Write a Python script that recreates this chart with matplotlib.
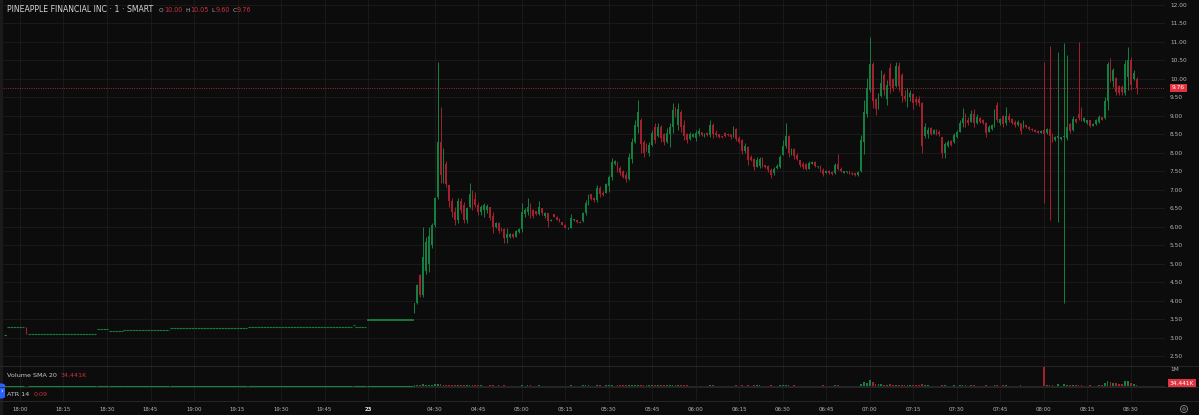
import matplotlib.pyplot as plt
from matplotlib.lines import Line2D
from matplotlib.patches import FancyBboxPatch, Ellipse, Rectangle
import numpy as np

title = 'PINEAPPLE FINANCIAL INC · 1 · SMART'
legend_keys = ['O', 'H', 'L', 'C']
legend_values = ['10.00', '10.05', '9.60', '9.76']
last_price = 9.76
volume_sma = '34.441K'
atr_value = '0.09'

# quiet evening session: runs of one-minute bars that did not move (first bar, last bar, low, high)
flat_first = [-5, -4, 3, 27, 31, 36, 52, 79, 115, 116, 120]
flat_last = [-5, 1, 26, 30, 35, 51, 78, 114, 115, 119, 135]
flat_low = [3.07, 3.29, 3.10, 3.23, 3.18, 3.21, 3.26, 3.29, 3.34, 3.29, 3.49]
flat_high = [3.07, 3.29, 3.10, 3.23, 3.18, 3.21, 3.26, 3.29, 3.34, 3.29, 3.51]

# the one evening bar that dropped
step_bar = [2]
step_open = [3.29]
step_close = [3.12]

# pre-market one-minute bars, bar 136 onwards
first_bar = 136
opens = [
    3.70, 3.95, 4.70, 4.15, 4.80, 5.00, 5.50, 6.05, 6.80, 8.30,
    7.40, 7.70, 7.14, 6.70, 6.40, 6.20, 6.70, 6.60, 6.20, 6.55,
    6.95, 6.75, 6.60, 6.40, 6.45, 6.45, 6.54, 6.30, 6.00, 6.12,
    5.97, 5.95, 5.70, 5.72, 5.80, 5.74, 5.86, 5.95, 6.35, 6.40,
    6.55, 6.45, 6.42, 6.35, 6.50, 6.30, 6.38, 6.17, 6.35, 6.28,
    6.22, 6.14, 6.06, 5.96, 5.98, 6.18, 6.19, 6.14, 6.15, 6.38,
    6.62, 6.88, 6.78, 6.72, 7.05, 6.92, 6.93, 7.10, 7.35, 7.70,
    7.76, 7.60, 7.50, 7.40, 7.30, 7.85, 8.30, 8.70, 8.90, 8.30,
    8.25, 8.00, 8.22, 8.70, 8.45, 8.70, 8.50, 8.30, 8.50, 8.70,
    9.20, 8.75, 9.10, 8.75, 8.50, 8.38, 8.44, 8.40, 8.50, 8.57,
    8.45, 8.55, 8.48, 8.75, 8.55, 8.50, 8.46, 8.55, 8.52, 8.50,
    8.45, 8.65, 8.40, 8.35, 8.05, 8.15, 7.90, 7.85, 7.62, 7.65,
    7.85, 7.68, 7.66, 7.55, 7.45, 7.60, 7.62, 7.95, 8.20, 8.45,
    7.98, 8.10, 7.95, 7.80, 7.70, 7.70, 7.58, 7.70, 7.76, 7.62,
    7.66, 7.55, 7.46, 7.52, 7.48, 7.45, 7.70, 7.58, 7.47, 7.48,
    7.50, 7.46, 7.45, 7.40, 7.50, 8.30, 9.05, 9.70, 10.40, 9.45,
    9.22, 9.55, 10.10, 9.45, 10.30, 10.00, 9.80, 10.35, 10.10, 9.55,
    9.30, 9.50, 9.60, 9.45, 9.45, 9.35, 8.45, 8.50, 8.68, 8.52,
    8.62, 8.58, 8.42, 8.00, 8.20, 8.32, 8.30, 8.42, 8.58, 8.80,
    8.95, 8.90, 8.85, 9.05, 8.82, 8.95, 8.88, 8.80, 8.58, 8.65,
    8.75, 9.30, 8.80, 9.00, 8.80, 9.00, 8.92, 8.85, 8.75, 8.80,
    8.70, 8.76, 8.70, 8.66, 8.62, 8.59, 8.55, 8.62, 8.55, 8.64,
    8.45, 8.35, 8.40, 8.38, 8.42, 8.40, 8.78, 8.62, 8.92, 9.05,
    9.20, 8.86, 8.80, 8.88, 8.74, 8.78, 8.85, 8.97, 8.95, 9.40,
    10.45, 9.95, 10.02, 9.80, 9.78, 9.62, 10.05, 10.50, 10.00, 10.00,
]
highs = [
    3.95, 4.45, 4.73, 6.00, 5.73, 6.00, 6.11, 6.81, 10.47, 9.24,
    8.14, 7.78, 7.14, 6.78, 6.54, 6.78, 6.78, 6.68, 6.54, 7.19,
    7.00, 6.95, 6.68, 6.59, 6.65, 6.62, 6.54, 6.41, 6.14, 6.14,
    5.97, 5.97, 5.97, 5.84, 5.84, 5.92, 5.97, 6.65, 6.51, 6.78,
    6.65, 6.49, 6.43, 6.70, 6.51, 6.41, 6.38, 6.21, 6.36, 6.29,
    6.24, 6.14, 6.08, 5.99, 6.35, 6.21, 6.20, 6.15, 6.41, 6.73,
    6.89, 6.89, 6.81, 7.14, 7.11, 6.97, 7.19, 7.41, 7.86, 7.81,
    7.76, 7.65, 7.54, 7.49, 8.00, 8.41, 8.89, 9.43, 8.95, 8.35,
    8.27, 8.30, 8.62, 8.81, 8.81, 8.76, 8.54, 8.68, 8.81, 9.35,
    9.24, 9.35, 9.16, 8.89, 8.54, 8.57, 8.54, 8.62, 8.68, 8.57,
    8.54, 8.57, 8.89, 8.81, 8.62, 8.51, 8.46, 8.57, 8.54, 8.51,
    8.73, 8.68, 8.46, 8.38, 8.27, 8.19, 7.95, 7.86, 7.89, 7.89,
    7.89, 7.68, 7.68, 7.59, 7.62, 7.70, 7.95, 8.35, 8.81, 8.49,
    8.14, 8.14, 8.00, 7.81, 7.75, 7.73, 7.78, 7.78, 7.78, 7.65,
    7.68, 7.59, 7.54, 7.54, 7.51, 7.73, 7.97, 7.62, 7.52, 7.52,
    7.51, 7.48, 7.46, 7.51, 8.49, 9.43, 10.03, 11.14, 10.46, 9.49,
    9.62, 10.24, 10.16, 9.97, 10.43, 10.03, 10.46, 10.46, 10.16, 9.70,
    9.76, 9.70, 9.62, 9.55, 9.55, 9.38, 8.81, 8.70, 8.70, 8.66,
    8.65, 8.62, 8.43, 8.30, 8.35, 8.35, 8.54, 8.62, 8.89, 9.22,
    9.08, 8.97, 9.16, 9.19, 9.05, 8.97, 8.92, 8.84, 8.76, 8.78,
    9.19, 9.38, 8.95, 9.03, 9.24, 9.08, 8.95, 8.88, 8.88, 8.81,
    8.90, 8.77, 8.72, 8.68, 8.64, 8.61, 8.62, 10.46, 8.68, 10.89,
    8.54, 8.46, 10.73, 8.43, 10.97, 10.65, 8.81, 9.00, 8.95, 11.00,
    9.24, 8.97, 8.90, 8.89, 8.81, 8.92, 9.03, 8.98, 9.51, 10.46,
    10.57, 10.30, 10.05, 9.84, 9.84, 10.51, 10.86, 10.59, 10.24, 10.05,
]
lows = [
    3.68, 3.93, 4.10, 4.12, 4.73, 4.78, 5.43, 6.00, 6.75, 7.19,
    7.19, 7.08, 6.54, 6.27, 6.05, 6.11, 6.38, 6.11, 6.11, 6.51,
    6.46, 6.55, 6.32, 6.32, 6.27, 6.38, 6.19, 5.84, 5.97, 5.84,
    5.89, 5.57, 5.57, 5.70, 5.70, 5.73, 5.84, 5.86, 6.27, 6.32,
    6.24, 6.24, 6.32, 6.32, 6.32, 6.24, 6.00, 6.15, 6.27, 6.19,
    6.14, 6.05, 5.97, 5.95, 5.97, 6.17, 6.11, 6.11, 6.14, 6.32,
    6.59, 6.73, 6.68, 6.68, 6.81, 6.84, 6.92, 6.95, 7.27, 7.68,
    7.49, 7.41, 7.32, 7.22, 7.28, 7.73, 8.27, 8.54, 8.00, 7.89,
    8.05, 7.92, 8.20, 8.27, 8.43, 8.30, 8.22, 8.27, 8.16, 8.54,
    8.97, 8.62, 8.57, 8.35, 8.27, 8.35, 8.43, 8.32, 8.46, 8.46,
    8.43, 8.46, 8.43, 8.41, 8.43, 8.41, 8.41, 8.43, 8.46, 8.38,
    8.44, 8.32, 8.27, 7.97, 8.00, 7.68, 7.78, 7.54, 7.62, 7.59,
    7.62, 7.60, 7.49, 7.32, 7.40, 7.57, 7.59, 7.95, 8.14, 7.89,
    7.95, 7.84, 7.80, 7.62, 7.58, 7.54, 7.57, 7.69, 7.62, 7.59,
    7.49, 7.38, 7.45, 7.44, 7.40, 7.44, 7.54, 7.48, 7.46, 7.45,
    7.42, 7.41, 7.38, 7.39, 7.49, 7.97, 8.97, 9.65, 9.22, 9.03,
    9.20, 9.51, 9.57, 9.30, 9.62, 9.68, 9.78, 9.68, 9.38, 9.40,
    9.24, 9.40, 9.19, 9.30, 9.28, 8.00, 8.41, 8.40, 8.49, 8.50,
    8.48, 8.45, 7.86, 7.86, 8.16, 8.19, 8.28, 8.41, 8.57, 8.70,
    8.70, 8.76, 8.84, 8.70, 8.78, 8.80, 8.78, 8.43, 8.57, 8.62,
    8.70, 8.84, 8.76, 8.70, 8.76, 8.85, 8.78, 8.70, 8.74, 8.51,
    8.68, 8.67, 8.63, 8.60, 8.56, 8.53, 8.54, 6.65, 8.52, 6.19,
    8.30, 8.33, 6.14, 8.36, 3.95, 8.35, 8.54, 8.60, 8.80, 8.89,
    8.86, 8.84, 8.78, 8.70, 8.72, 8.76, 8.81, 8.89, 8.93, 9.16,
    9.92, 9.78, 9.57, 9.57, 9.57, 9.57, 9.70, 9.70, 9.97, 9.60,
]
closes = [
    3.94, 4.42, 4.15, 5.20, 5.60, 5.75, 6.05, 6.78, 8.30, 7.40,
    7.70, 7.15, 6.70, 6.40, 6.20, 6.70, 6.45, 6.20, 6.50, 6.90,
    6.60, 6.60, 6.40, 6.55, 6.60, 6.58, 6.25, 6.00, 6.12, 5.90,
    5.90, 5.70, 5.80, 5.80, 5.74, 5.88, 5.95, 6.40, 6.45, 6.55,
    6.40, 6.30, 6.35, 6.55, 6.38, 6.38, 6.15, 6.20, 6.28, 6.20,
    6.15, 6.06, 5.98, 5.98, 6.25, 6.20, 6.13, 6.12, 6.38, 6.65,
    6.85, 6.76, 6.72, 7.05, 6.88, 6.86, 7.15, 7.35, 7.75, 7.78,
    7.55, 7.45, 7.35, 7.30, 7.90, 8.30, 8.75, 9.10, 8.25, 8.00,
    8.10, 8.22, 8.55, 8.35, 8.70, 8.40, 8.30, 8.55, 8.70, 9.15,
    9.00, 9.20, 8.70, 8.45, 8.35, 8.50, 8.52, 8.55, 8.60, 8.48,
    8.52, 8.48, 8.75, 8.50, 8.48, 8.44, 8.42, 8.47, 8.48, 8.42,
    8.65, 8.38, 8.30, 8.05, 8.20, 7.80, 7.80, 7.62, 7.80, 7.85,
    7.68, 7.62, 7.55, 7.40, 7.58, 7.65, 7.90, 8.20, 8.45, 8.00,
    8.10, 7.92, 7.85, 7.68, 7.62, 7.58, 7.72, 7.76, 7.66, 7.64,
    7.52, 7.42, 7.52, 7.46, 7.43, 7.68, 7.58, 7.52, 7.50, 7.50,
    7.44, 7.43, 7.40, 7.48, 8.35, 9.10, 9.76, 10.40, 9.40, 9.20,
    9.55, 9.90, 9.70, 9.85, 9.80, 9.75, 10.35, 9.80, 9.55, 9.45,
    9.65, 9.62, 9.35, 9.38, 9.35, 8.20, 8.70, 8.62, 8.52, 8.62,
    8.52, 8.50, 8.00, 8.25, 8.30, 8.22, 8.48, 8.58, 8.80, 8.95,
    8.80, 8.80, 9.05, 8.80, 8.98, 8.85, 8.82, 8.55, 8.70, 8.75,
    9.05, 8.90, 8.92, 8.78, 9.00, 8.90, 8.82, 8.75, 8.85, 8.60,
    8.78, 8.70, 8.66, 8.62, 8.58, 8.55, 8.60, 8.52, 8.64, 8.45,
    8.35, 8.42, 8.45, 8.42, 8.45, 8.70, 8.60, 8.92, 8.84, 8.95,
    8.92, 8.94, 8.88, 8.74, 8.79, 8.88, 8.98, 8.90, 9.40, 10.40,
    10.00, 10.25, 9.65, 9.62, 9.64, 10.40, 10.50, 9.85, 10.15, 9.76,
]
# volume per bar, thousands of shares
volumes_k = [
    40, 60, 55, 90, 70, 80, 75, 95, 140, 110,
    70, 60, 55, 45, 40, 50, 35, 40, 30, 45,
    40, 30, 35, 30, 25, 25, 30, 40, 20, 30,
    15, 35, 25, 15, 15, 20, 20, 45, 25, 30,
    30, 20, 15, 30, 20, 20, 25, 10, 15, 15,
    20, 20, 20, 10, 35, 10, 15, 10, 30, 40,
    35, 25, 20, 45, 30, 20, 35, 40, 60, 25,
    35, 30, 30, 30, 50, 55, 60, 80, 60, 45,
    30, 35, 45, 40, 35, 35, 30, 35, 40, 60,
    30, 45, 40, 35, 30, 20, 15, 25, 25, 15,
    15, 15, 35, 30, 20, 15, 10, 15, 15, 15,
    25, 30, 25, 40, 25, 45, 25, 40, 30, 30,
    25, 15, 25, 35, 20, 20, 35, 45, 70, 45,
    25, 30, 25, 25, 20, 25, 20, 15, 20, 15,
    25, 30, 15, 15, 20, 35, 40, 20, 10, 10,
    15, 15, 15, 15, 140, 250, 200, 330, 220, 120,
    90, 110, 80, 70, 90, 60, 80, 70, 80, 40,
    50, 40, 50, 35, 30, 110, 40, 30, 25, 20,
    20, 25, 60, 50, 25, 20, 30, 25, 40, 60,
    30, 25, 40, 45, 25, 20, 20, 40, 25, 20,
    45, 50, 25, 30, 40, 25, 20, 20, 15, 30,
    25, 15, 15, 15, 15, 15, 20, 1100, 30, 60,
    40, 25, 90, 25, 140, 70, 40, 35, 30, 60,
    40, 25, 20, 30, 20, 25, 40, 30, 150, 280,
    260, 200, 170, 120, 110, 270, 290, 180, 90, 60,
]

tick_bars = [0, 15, 30, 45, 60, 75, 90, 105, 120, 143, 158, 173, 188, 203, 218,
             233, 248, 263, 278, 293, 308, 323, 338, 353, 368, 383]
tick_labels = ['18:00', '18:15', '18:30', '18:45', '19:00', '19:15', '19:30', '19:45', '23',
               '04:30', '04:45', '05:00', '05:15', '05:30', '05:45', '06:00', '06:15', '06:30',
               '06:45', '07:00', '07:15', '07:30', '07:45', '08:00', '08:15', '08:30']
price_ticks = [2.5, 3.0, 3.5, 4.0, 4.5, 5.0, 5.5, 6.0, 6.5, 7.0, 7.5, 8.0, 8.5, 9.0,
               9.5, 10.0, 10.5, 11.0, 11.5, 12.0]

BG = '#0c0c0c'
GRID = '#1c1c1c'
SEP = '#2a2a2a'
GREEN = '#148040'
RED = '#a4202f'
TXT = '#b4b4b4'
LABEL_RED = '#e23440'
VALUE_RED = '#c8303c'

W, H = 1199, 415
fig = plt.figure(figsize=(W / 100, H / 100), dpi=100, facecolor=BG)


def box(x0, y0, x1, y1):
    # pixel box (top-left origin) -> figure fraction
    return [x0 / W, 1 - y1 / H, (x1 - x0) / W, (y1 - y0) / H]


ax = fig.add_axes(box(3, 0, 1165, 366))
ax_v = fig.add_axes(box(3, 366, 1165, 387), sharex=ax)
ax_a = fig.add_axes(box(3, 387, 1165, 401), sharex=ax)

for a in (ax, ax_v, ax_a):
    a.set_facecolor(BG)
    for s in a.spines.values():
        s.set_visible(False)
    a.set_xticks(tick_bars)
    a.grid(axis='x', color=GRID, lw=0.6)
    a.set_axisbelow(True)
    a.tick_params(axis='both', length=0, colors=TXT)

ax.set_xlim(-5.86, 394.8)
ax.set_ylim(2.243, 12.135)

# price pane
ax.set_yticks(price_ticks)
ax.set_yticklabels(['{:.2f}'.format(p) for p in price_ticks])
ax.yaxis.tick_right()
ax.tick_params(axis='y', labelsize=4.2, pad=3.6, labelcolor=TXT)
ax.tick_params(axis='x', labelbottom=False)
ax.grid(axis='y', color=GRID, lw=0.6)

# evening session: flat runs
for a, b, lo, hi in zip(flat_first, flat_last, flat_low, flat_high):
    if hi > lo:
        ax.bar(a - 0.35, hi - lo, width=b - a + 0.7, bottom=lo, align='edge',
               color=GREEN, edgecolor=GREEN, linewidth=0.6)
    else:
        ax.hlines(lo, a - 0.35, b + 0.35, color=GREEN, lw=0.8, linestyles=(0, (2.2, 0.5)))
    ax_v.hlines(0, a - 0.35, b + 0.35, color=GREEN, lw=0.8)
ax.vlines(step_bar, step_close, step_open, color=RED, lw=0.8)

# candles
x = np.arange(first_bar, first_bar + len(opens))
o, h, l, c = np.array(opens), np.array(highs), np.array(lows), np.array(closes)
cols = np.where(c >= o, GREEN, RED)
ax.vlines(x, l, h, colors=cols, lw=0.7)
ax.bar(x, np.maximum(np.abs(c - o), 0.025), bottom=np.minimum(o, c), width=0.62,
       color=cols, linewidth=0)

# last price line + tag
ax.axhline(last_price, color=LABEL_RED, lw=0.6, ls=(0, (1.2, 1.6)), alpha=0.8)
ax.text(1.0115, last_price, '{:.2f}'.format(last_price), transform=ax.get_yaxis_transform(),
        ha='center', va='center', fontsize=4.2, color='white', clip_on=False,
        bbox=dict(boxstyle='square,pad=0.3', fc=LABEL_RED, ec='none'))

# volume pane
ax_v.set_ylim(-0.059e6, 1.176e6)
ax_v.axhline(0, color=SEP, lw=0.6, zorder=0)
ax_v.bar(x, np.array(volumes_k) * 1000, width=0.62, color=cols, linewidth=0)
ax_v.set_yticks([1e6])
ax_v.set_yticklabels(['1M'])
ax_v.yaxis.tick_right()
ax_v.tick_params(axis='y', labelsize=4.2, pad=3.6, labelcolor=TXT)
ax_v.tick_params(axis='x', labelbottom=False)

# atr pane (line is off the visible range) + time axis
ax_a.set_yticks([])
ax_a.set_xticklabels(tick_labels)
ax_a.tick_params(axis='x', labelsize=3.9, pad=4.2, labelcolor=TXT)
for t in ax_a.get_xticklabels():
    if t.get_text() == '23':
        t.set_fontweight('bold')
        t.set_color('#e6e6e6')

# header texts
fig.text(7 / W, 1 - 10 / H, title, fontsize=5.6, color='#d6d6d6', va='center')
for k, v, kx, vx in zip(legend_keys, legend_values, [158.5, 185.5, 211.5, 232.5], [164, 190, 216, 237]):
    fig.text(kx / W, 1 - 10 / H, k, fontsize=4.2, color='#a8a8a8', va='center')
    fig.text(vx / W, 1 - 10 / H, v, fontsize=4.7, color=VALUE_RED, va='center')

fig.text(7 / W, 1 - 375 / H, 'Volume SMA 20', fontsize=4.6, color='#c8c8c8', va='center')
fig.text(61 / W, 1 - 375 / H, volume_sma, fontsize=4.6, color=VALUE_RED, va='center')
fig.text(7 / W, 1 - 394 / H, 'ATR 14', fontsize=4.6, color='#c8c8c8', va='center')
fig.text(34 / W, 1 - 394 / H, atr_value, fontsize=4.6, color=VALUE_RED, va='center')
fig.text(1182 / W, 1 - 383 / H, volume_sma, fontsize=4.2, color='white', ha='center', va='center',
         bbox=dict(boxstyle='square,pad=0.3', fc=LABEL_RED, ec='none'))

# pane separators and chrome
for yy in (366, 387, 401):
    fig.add_artist(Line2D([0, 1], [1 - yy / H] * 2, color=SEP, lw=0.6))
fig.add_artist(Rectangle((0, 0), 2.5 / W, 1, transform=fig.transFigure, color='#1b1b1b', lw=0))
fig.add_artist(FancyBboxPatch((-3 / W, 1 - 399 / H), 8 / W, 16 / H, transform=fig.transFigure,
                              boxstyle='round,pad=0,rounding_size=0.006', fc='#2962ff', ec='none'))
fig.text(1.5 / W, 1 - 391 / H, '›', fontsize=5, color='white', va='center', ha='center')
fig.add_artist(Ellipse((1184 / W, 1 - 409 / H), 7 / W, 7 / H, transform=fig.transFigure,
                       fill=False, ec='#8c8c8c', lw=0.6))
fig.add_artist(Ellipse((1184 / W, 1 - 409 / H), 2.5 / W, 2.5 / H, transform=fig.transFigure,
                       fill=False, ec='#8c8c8c', lw=0.5))

fig.savefig('out.png', dpi=100, facecolor=BG)
